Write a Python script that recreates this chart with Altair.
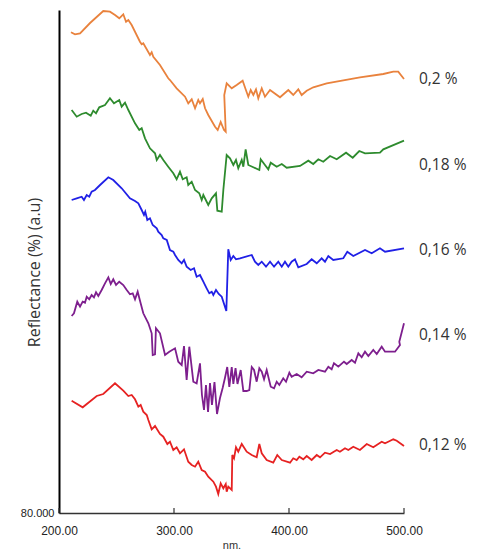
import altair as alt
import pandas as pd

labels = ["0,2 %", "0,18 %", "0,16 %", "0,14 %", "0,12 %"]
colors = ["#e9823d", "#2e8b2e", "#2020e6", "#7e1f8e", "#e62222"]

wl_020 = [210.4, 213.9, 218.3, 227.0, 238.5, 244.3, 248.7, 252.4, 255.9, 258.3,
          260.3, 263.2, 270.4, 271.9, 273.3, 279.1, 280.6, 282.0, 287.8, 295.0,
          296.5, 302.3, 309.6, 312.4, 315.4, 318.3, 321.1, 322.6, 325.0, 327.0,
          329.8, 335.7, 338.0, 340.6, 343.5, 345.0, 343.7, 345.8, 350.2, 354.5,
          359.7, 362.3, 364.6, 366.7, 369.0, 371.3, 373.3, 376.3, 379.1, 383.5,
          392.2, 399.4, 403.7, 408.1, 411.0, 415.4, 421.1, 432.8, 461.7, 482.0,
          490.7, 495.0, 500.0]
r_020 = [560.7, 558.7, 559.7, 570, 582, 581.3, 578, 574.7, 578.7, 571.3,
         573, 568, 551.3, 548.7, 549.7, 538, 540.7, 536.3, 528, 514.7,
         513, 504.7, 496.3, 489.7, 493.7, 484.7, 493, 489.7, 494, 484.7,
         478, 466.3, 463, 471, 463, 461.3, 498, 509.7, 504.7, 508,
         512.3, 503.7, 496.3, 503, 498, 503.7, 494.7, 504.7, 496.3, 503,
         495.7, 503, 498, 503.7, 498, 502.3, 505.7, 509.7, 515.7, 519,
         521.3, 521.3, 514]

wl_018 = [211, 215.4, 219.7, 223.5, 227.6, 229.8, 232.2, 235, 240, 244.3,
          247.8, 252.4, 254.5, 257.4, 260.3, 266.1, 269.8, 271.9, 274.8, 279.1,
          283.5, 285, 287.8, 290.7, 295, 299.4, 302.3, 305.2, 307.6, 311,
          312.4, 315.4, 318.3, 322, 324.1, 325.5, 329.8, 332.8, 336.5, 337.7,
          341.5, 342.9, 345.8, 348.7, 351.6, 353.9, 355.9, 358.9, 360.3, 362.3,
          364.6, 369, 374.2, 375.4, 379.1, 382, 384.1, 389.3, 393.7, 398,
          409.6, 416.8, 421.1, 425.5, 429.8, 435.7, 441.5, 449.6, 455.4, 461.1,
          466.1, 479.1, 482, 500]
r_018 = [483, 476.3, 479, 480.3, 477.3, 482.3, 479.7, 485.7, 488, 494.7,
         489.7, 493, 486.3, 490.3, 483, 469.7, 463, 464.7, 454.7, 444.7,
         439.7, 433, 438, 433, 426.3, 419.7, 413.7, 421.3, 413.7, 415.7,
         408, 411.3, 403, 399.7, 393, 398, 388, 394.7, 399.7, 382.3,
         381.3, 403, 438, 434.7, 428, 433, 424.7, 433, 426.3, 443.7,
         428, 425.7, 423, 433.7, 428, 423.7, 430.3, 426.3, 429, 425.3,
         427, 432.3, 429, 433.7, 431.3, 437, 433.7, 440.3, 435.3, 442,
         439.7, 440.3, 443.7, 452.3]

wl_016 = [211, 215.4, 219.7, 221.7, 224.1, 226.3, 228.4, 231.3, 235.7, 242.9,
          247.2, 254.5, 261.7, 266.1, 269, 271.9, 273.9, 275, 276.8, 279.1,
          281.5, 285, 286.3, 289.3, 290.7, 293.7, 296.5, 299.4, 300.9, 303.7,
          306.7, 308.7, 311, 314.5, 317.4, 319.7, 322.6, 325.5, 328.4, 330.7,
          332.8, 334.2, 336.5, 338.9, 341.5, 345.5, 347.2, 349.3, 351.6, 353.9,
          357.4, 367.6, 370.4, 373.3, 376.3, 380, 383.5, 387, 390.7, 393.7,
          396.5, 399.4, 402.3, 405.2, 408.1, 415.4, 419.7, 424.1, 428.4, 431.3,
          434.2, 438.5, 447.2, 450.7, 455.9, 466.1, 471.9, 479.1, 483.5, 500]
r_016 = [393, 394.7, 396.3, 393, 398, 396.3, 401.3, 403, 408, 415.7,
         413, 404.7, 394.7, 392, 389.7, 383, 378, 381.3, 373, 374.7,
         368, 364.7, 361.3, 358, 354.7, 353, 343, 341.3, 338, 333,
         329.7, 333, 326.3, 323, 324.7, 316.3, 318, 311.3, 304.7, 299.7,
         301.3, 298, 303, 299, 296.3, 282, 343.7, 333, 337, 333.7,
         334.7, 338, 331.3, 328, 331.3, 326.3, 331.3, 326.3, 331.3, 326.3,
         331.3, 326.3, 331.3, 333.7, 325.7, 329, 333.7, 329.7, 334.7, 331.3,
         337, 333, 334.7, 341.3, 337, 343, 339.7, 344.7, 341.3, 344.7]

wl_014 = [211, 213, 215.9, 218.3, 220.6, 222.6, 224.1, 226.3, 228.4, 230.4,
          232.2, 234.2, 237.1, 240, 242.9, 245, 247.2, 249.6, 252.4, 255.9,
          258.9, 261.7, 264.1, 266.1, 268.4, 271, 273.3, 277.7, 280.6, 281.5,
          283.5, 284.3, 287.8, 292.2, 295.9, 300.9, 303.7, 306.7, 308.7, 311,
          313.3, 316.8, 319.7, 322.6,
          324.3, 326.1, 327.8, 329.6, 331.3, 333, 335.2, 337.4, 340, 342.3,
          344.3, 346.3, 348.1, 350.2, 351.6, 353.5, 355.2, 358, 360.3, 363.2,
          365.5, 367.6, 369.6, 371.9, 374.2, 376.3, 378.3, 380.6, 384.1, 387,
          389.3, 391.6, 395, 397.4, 400.3, 402.3, 406.7, 411, 415.4, 421.1,
          425.5, 431.3, 434.2, 437.1, 439.1, 442.9, 447.8, 450.2, 454.5, 457.4,
          460.3, 463.2, 466.1, 469, 473.3, 476.3, 480.6, 483.5, 492.2, 496.5,
          495.9, 500]
r_014 = [277, 279.7, 291.3, 286.3, 291.3, 290.3, 296.3, 293.7, 298, 295.7,
         300.7, 297, 303, 309.7, 315.7, 309, 313.7, 308, 311.3, 308,
         303, 298.7, 299.7, 293.7, 301.3, 289.7, 279.7, 269.7, 259.7, 238,
         238.7, 264.7, 259.7, 238, 241.3, 244.7, 231.3, 228, 247, 213,
         246.3, 211.3, 209.7, 229.7,
         198, 183, 208, 181, 210, 188, 211, 179, 195, 205,
         215, 226, 206, 226, 209, 225, 209, 223, 202, 202,
         203, 226, 223, 211.3, 224.7, 221.3, 213.7, 223, 206.3, 204.7,
         211.3, 208, 214.7, 211.3, 220.3, 216.3, 219, 215.7, 221.3, 219.7,
         223, 221.3, 226.3, 223.7, 229.7, 226.3, 231.3, 229, 233, 230.3,
         239.7, 235.7, 241.3, 237, 243, 239, 246.3, 241.3, 241.3, 248,
         251.3, 269.7]

wl_012 = [211, 220.6, 232.8, 238.5, 248.7, 255.9, 260.3, 263.2, 266.1, 269,
          271, 273.3, 276.3, 277.7, 280.6, 283.5, 287.8, 290.7, 294.2, 296.5,
          299.4, 302.3, 305.2, 308.7, 312.4, 315.4, 318.3, 321.1, 324.1, 327,
          329.8, 334.2, 336.5, 338.5, 340.6, 342.9, 345, 345.8, 347.2, 350.2,
          350.7, 352.2, 353.9, 355.9, 358.9, 363.2, 367.6, 371.9, 374.2, 376.3,
          380.6, 386.3, 389.8, 393.7, 400.9, 403.7, 406.7, 409, 412.4, 415.4,
          419.7, 424.1, 427, 431.3, 435.7, 441.5, 444.3, 448.7, 451.6, 455.9,
          461.7, 467.6, 473.3, 480.6, 483.5, 486.3, 490.7, 493.7, 500]
r_012 = [192.3, 185.7, 197, 199, 209.7, 202.3, 197, 198, 193.7, 186.3,
         188, 181.3, 178, 173, 163.7, 167, 159, 156.3, 149, 151.3,
         143, 145.7, 139.7, 143.7, 131.3, 128, 126.3, 131.3, 123, 121.3,
         116.3, 111.3, 106.3, 99, 109.7, 104.7, 109, 101.3, 106.3, 103,
         138, 134.7, 145.7, 141.3, 149, 141.3, 138, 135.7, 149, 139.7,
         133, 130.3, 138, 133, 130.3, 134.7, 133, 136.3, 133.7, 137,
         133, 138, 135.7, 140.3, 139, 143, 141.3, 144.7, 143, 146.3,
         143, 149, 145.7, 151.3, 149.7, 151.3, 153.7, 152.3, 147]

x_ticks = [200, 300, 400, 500]
y_ticks = [80]

series_x = [wl_020, wl_018, wl_016, wl_014, wl_012]
series_y = [r_020, r_018, r_016, r_014, r_012]

rows = []
for lab, xs, ys in zip(labels, series_x, series_y):
    for i, (xv, yv) in enumerate(zip(xs, ys)):
        rows.append({"series": lab, "nm": xv, "R": yv, "i": i})
df = pd.DataFrame(rows)

# label placement: offset (in px == data units here) below the curve end
label_shift = [0, 24, 2, 12, -1]
lab_rows = []
for lab, ys, s in zip(labels, series_y, label_shift):
    lab_rows.append({"series": lab, "R": ys[-1] - s})
df_lab = pd.DataFrame(lab_rows)
df_ticks = pd.DataFrame({"v": x_ticks})

xscale = alt.Scale(domain=[200, 500], nice=False, zero=False)
yscale = alt.Scale(domain=[80, 583], nice=False, zero=False)
cscale = alt.Scale(domain=labels, range=colors)

lines = alt.Chart(df).mark_line(strokeWidth=1.8, interpolate="linear").encode(
    x=alt.X("nm:Q", scale=xscale,
            axis=alt.Axis(values=x_ticks, format=".2f", grid=False, ticks=False,
                          domainColor="#333333", domainWidth=1.5,
                          labelFont="Liberation Sans", labelFontSize=12,
                          labelColor="#222222", labelPadding=12, labelFlush=False,
                          title="nm.", titleFont="Liberation Sans", titleFontSize=11,
                          titleFontWeight="normal", titleColor="#333333",
                          titleY=32, titleBaseline="middle")),
    y=alt.Y("R:Q", scale=yscale,
            axis=alt.Axis(values=y_ticks, format=".3f", grid=False, ticks=False,
                          domainColor="#000000", domainWidth=2,
                          labelFont="Liberation Sans", labelFontSize=11,
                          labelColor="#222222", labelPadding=5, labelFlush=False,
                          title="Reflectance (%) (a.u)", titleFont="Open Sans",
                          titleFontSize=16, titleFontWeight="normal",
                          titleColor="#333333", titleAngle=270, titleX=-25,
                          titleY=262, titleAlign="center", titleBaseline="middle")),
    color=alt.Color("series:N", scale=cscale, legend=None),
    detail="series:N",
    order="i:Q",
)

ticks = alt.Chart(df_ticks).mark_rule(color="#333333", strokeWidth=1.2).encode(
    x=alt.X("v:Q", scale=xscale),
    y=alt.value(503),
    y2=alt.value(498),
)

texts = alt.Chart(df_lab).mark_text(align="left", baseline="middle",
                                    font="Open Sans", fontSize=15.5,
                                    color="#333333").encode(
    x=alt.value(360),
    y=alt.Y("R:Q", scale=yscale),
    text="series:N",
)

chart = alt.layer(lines, ticks, texts).properties(
    width=345, height=503,
    autosize=alt.AutoSizeParams(type="none"),
    padding={"left": 51, "top": 2, "right": 70, "bottom": 40},
).configure_view(stroke=None)

chart.save("out.html", embed_options={"renderer": "svg", "actions": False})
